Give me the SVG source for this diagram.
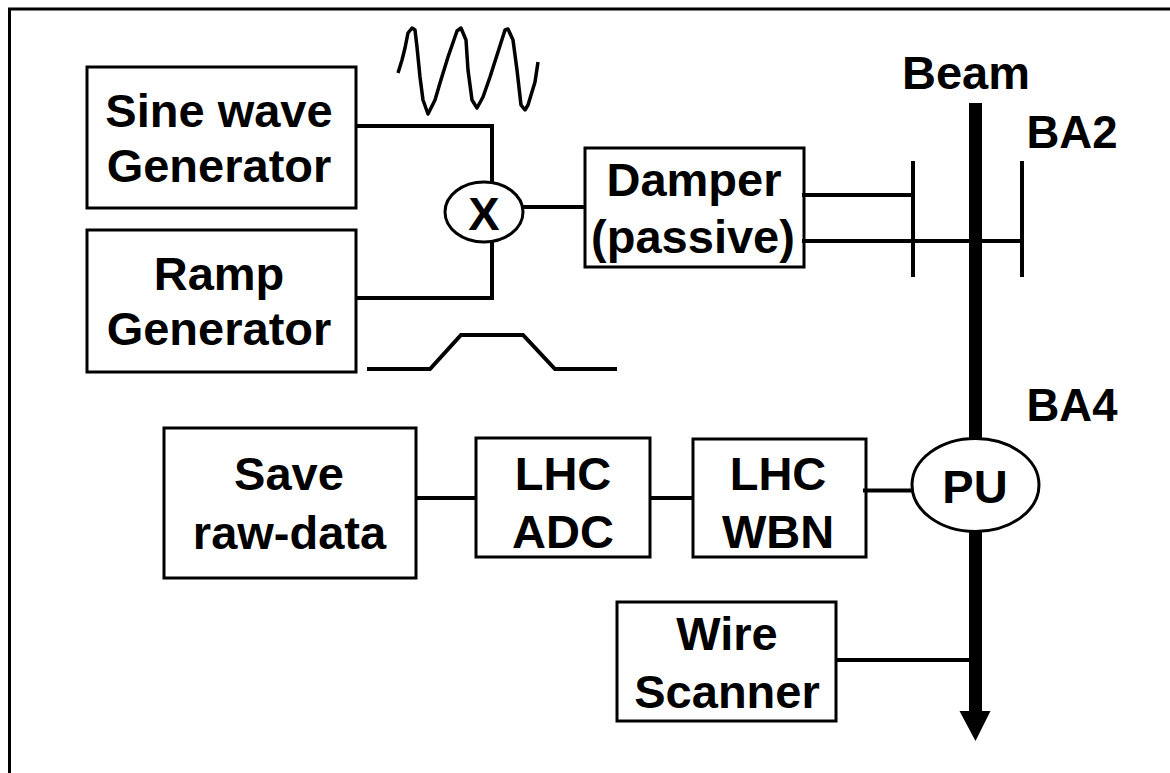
<svg xmlns="http://www.w3.org/2000/svg" width="1170" height="773" viewBox="0 0 1170 773">
<style>
.box{fill:#fff;stroke:#000;stroke-width:3}
.w{fill:none;stroke:#000;stroke-width:4}
text{font-family:"Liberation Sans",Arial,sans-serif;font-weight:700;font-size:47px;fill:#000;text-anchor:middle}
.ba{font-size:45.500px}
</style>
<rect width="1170" height="773" fill="#fff"/>
<path d="M9.5 773V9H1170" fill="none" stroke="#000" stroke-width="3"/>
<g id="sine"><rect class="box" x="87" y="67" width="269" height="141"/><text x="219" y="127">Sine wave</text><text x="219" y="182">Generator</text></g>
<g id="ramp"><rect class="box" x="87" y="230" width="269" height="142"/><text x="219" y="290">Ramp</text><text x="219" y="345">Generator</text></g>
<g id="damper"><rect class="box" x="585" y="148" width="219" height="119"/><text x="694" y="196">Damper</text><text x="693" y="253">(passive)</text></g>
<g id="save"><rect class="box" x="164" y="428" width="252" height="150"/><text x="289" y="490">Save</text><text x="289.500" y="549">raw-data</text></g>
<g id="adc"><rect class="box" x="476" y="438" width="174" height="119"/><text x="563" y="490">LHC</text><text x="563" y="548">ADC</text></g>
<g id="wbn"><rect class="box" x="693" y="439" width="173" height="118"/><text x="778" y="490">LHC</text><text x="778" y="548">WBN</text></g>
<g id="scanner"><rect class="box" x="617" y="602" width="219" height="119"/><text x="727" y="650">Wire</text><text x="727" y="708">Scanner</text></g>
<g id="connectors">
<path class="w" d="M355 126H492V298H355"/>
<path class="w" d="M523 207H585"/>
<path class="w" d="M802 195H913M802 241H1022"/>
<path class="w" d="M913 161V277M1022 161V277"/>
<path class="w" d="M416 498H476M650 498H693M863 490.500H912"/>
<path class="w" d="M836 660H970"/>
<path id="beam" d="M969 103H982V711H990.500L975.500 741L959.500 711H969Z" fill="#000"/>
<path fill="none" stroke="#000" stroke-width="3.500" stroke-linejoin="round" d="M398 73L402 60L405 48L408 33L412 28L415 30L417 47L420 77L423 100L428 114L435 100L440 83L448 57L457 31L461 28L466 40L468 70L472 100L477 108L483 97L490 77L505 30L508 29L513 40L517 70L521 105L525 110L528 105L535 82L538 62"/>
<path class="w" d="M367 369H430L461 335H523L555 369H617"/>
</g>
<g id="mixer"><ellipse class="box" cx="484" cy="212" rx="39" ry="30"/><text x="484" y="230">X</text></g>
<g id="pu"><ellipse class="box" cx="975.500" cy="485" rx="63.500" ry="46.500"/><text x="975" y="503">PU</text></g>
<text x="966" y="89">Beam</text>
<text class="ba" x="1072" y="148">BA2</text>
<text class="ba" x="1072" y="421">BA4</text>
</svg>
